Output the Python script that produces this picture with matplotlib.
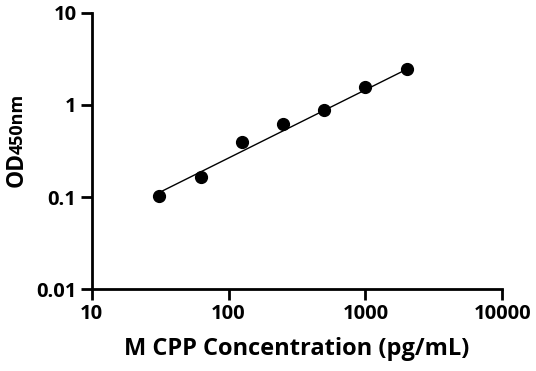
import matplotlib
matplotlib.use('Agg')
from matplotlib import pyplot as plt
from matplotlib import transforms as mtrans

# 数据 (pg/mL, OD450)
conc = [31.25, 62.5, 125, 250, 500, 1000, 2000]
od = [0.102, 0.165, 0.395, 0.62, 0.88, 1.57, 2.46]

# 拟合线端点
fit_x = [31.25, 2000]
fit_y = [0.112, 2.44]

x_ticks = [10, 100, 1000, 10000]
y_ticks = [0.01, 0.1, 1, 10]
y_labels = ['0.01', '0.1', '1', '10']

plt.rcParams['font.family'] = ['Open Sans', 'DejaVu Sans']

fig = plt.figure(figsize=(5.36, 3.71), dpi=100)
ax = fig.add_axes([0.171, 0.221, 0.766, 0.744])

ax.plot(fit_x, fit_y, '-', c='black', lw=1.0)
ax.plot(conc, od, 'o', c='black', ms=8.5)

ax.set_xscale('log')
ax.set_yscale('log')
ax.set_xlim(10, 10000)
ax.set_ylim(0.01, 10)

ax.set_xticks(x_ticks)
ax.set_xticklabels([str(t) for t in x_ticks], fontweight='bold', fontsize=14.5)
ax.set_yticks(y_ticks)
ax.set_yticklabels(y_labels, fontweight='bold', fontsize=14.5)
ax.minorticks_off()

for s in ['top', 'right']:
    ax.spines[s].set_visible(False)
for s in ['left', 'bottom']:
    ax.spines[s].set_linewidth(2)
ax.tick_params(width=2, length=8, pad=3)

ax.set_xlabel('M CPP Concentration (pg/mL)', fontweight='bold', fontsize=17, labelpad=9)

# y轴标签: OD + 450nm (同一基线, 小字号)
base = mtrans.Affine2D().translate(23, 371 - 187)
t1 = fig.text(0, 0, 'OD', rotation=90, rotation_mode='anchor', ha='left', va='baseline',
              fontweight='bold', fontsize=16.5, transform=base)
fig.canvas.draw()
w = t1.get_window_extent().height
fig.text(0, 0, '450nm', rotation=90, rotation_mode='anchor', ha='left', va='baseline',
         fontweight='bold', fontsize=13,
         transform=mtrans.Affine2D().translate(23, 371 - 187 + w - 2))

fig.savefig('out.png', dpi=100)
